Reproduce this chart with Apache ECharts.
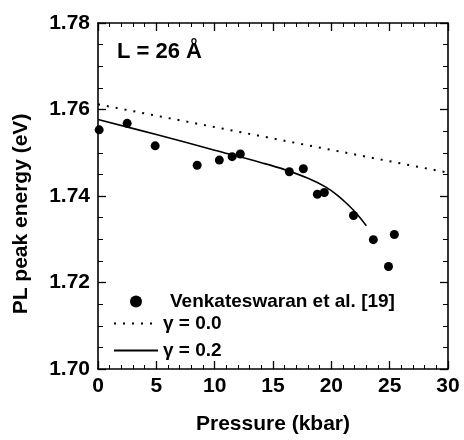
<!DOCTYPE html>
<html>
<head>
<meta charset="utf-8">
<script src="https://cdn.jsdelivr.net/npm/echarts@6/dist/echarts.min.js"></script>
<style>
  html, body { margin: 0; padding: 0; background: #fff; }
  #chart { width: 464px; height: 440px; }
</style>
</head>
<body>
<div id="chart"></div>
<script>
// measured points, pressure (kbar) / PL peak (eV)
var pressure = [0.1, 2.5, 4.9, 8.5, 10.4, 11.5, 12.2, 16.4, 17.6, 18.8, 19.4, 21.9, 23.6, 24.9, 25.4];
var energy = [1.7553, 1.7568, 1.7516, 1.7471, 1.7483, 1.7491, 1.7497, 1.7456, 1.7463, 1.7404, 1.7408, 1.7355, 1.7299, 1.7237, 1.7311];

// gamma = 0.0 (straight dotted line)
var g0Pressure = [0, 30];
var g0Energy = [1.7612, 1.7454];

// gamma = 0.2 (solid curve, ends near 23 kbar)
var g2Pressure = [0, 5, 10, 14, 16, 18, 19.5, 20.5, 21.5, 22.3, 23.0];
var g2Energy = [1.7577, 1.7542, 1.7506, 1.7477, 1.7461, 1.7441, 1.7421, 1.7402, 1.7378, 1.7355, 1.7331];

var xTicks = [0, 5, 10, 15, 20, 25, 30];
var yTicks = [1.70, 1.72, 1.74, 1.76, 1.78];

function pairs(xs, ys) {
	var out = [];
	for (var i = 0; i < xs.length; i++) {
		out.push([xs[i], ys[i]]);
	}
	return out;
}

var font = 'Liberation Sans, Arial, Helvetica, sans-serif';
var black = '#000';

var chart = echarts.init(document.getElementById('chart'), null, { renderer: 'canvas' });

// common axis bits, frame on all four sides with inward ticks
var lineStyle = { color: black, width: 1.6 };
function xAxis(pos, labels) {
	return {
		type: 'value',
		position: pos,
		min: xTicks[0],
		max: xTicks[xTicks.length - 1],
		interval: 5,
		axisLine: { show: true, onZero: false, lineStyle: lineStyle },
		axisTick: { show: true, inside: true, length: 8, lineStyle: { color: black, width: 1.3 } },
		minorTick: { show: true, splitNumber: 5, length: 4, lineStyle: { color: black, width: 1 } },
		splitLine: { show: false },
		axisLabel: {
			show: labels, margin: 7, color: black,
			fontFamily: font, fontWeight: 'bold', fontSize: 21
		},
		name: labels ? 'Pressure (kbar)' : '',
		nameLocation: 'middle',
		nameGap: 45,
		nameTextStyle: { color: black, fontFamily: font, fontWeight: 'bold', fontSize: 21 }
	};
}
function yAxis(pos, labels) {
	return {
		type: 'value',
		position: pos,
		min: yTicks[0],
		max: yTicks[yTicks.length - 1],
		interval: 0.02,
		axisLine: { show: true, onZero: false, lineStyle: lineStyle },
		axisTick: { show: true, inside: true, length: 8, lineStyle: { color: black, width: 1.3 } },
		minorTick: { show: true, splitNumber: 4, length: 5, lineStyle: { color: black, width: 1 } },
		splitLine: { show: false },
		axisLabel: {
			show: labels, margin: 8, color: black,
			fontFamily: font, fontWeight: 'bold', fontSize: 21,
			formatter: function (v) { return v.toFixed(2); }
		},
		name: labels ? 'PL peak energy (eV)' : '',
		nameLocation: 'middle',
		nameGap: 66,
		nameTextStyle: { color: black, fontFamily: font, fontWeight: 'bold', fontSize: 21, padding: [0, 36, 0, 0] }
	};
}

var legendText = { color: black, fontFamily: font, fontWeight: 'bold', fontSize: 19 };

var option = {
	animation: false,
	backgroundColor: '#fff',
	grid: { left: 98, right: 16, top: 23, bottom: 70 },
	xAxis: [xAxis('bottom', true), xAxis('top', false)],
	yAxis: [yAxis('left', true), yAxis('right', false)],
	legend: [
		{
			data: ['Venkateswaran et al. [19]'],
			orient: 'vertical',
			left: 130, top: 292,
			padding: 0,
			itemWidth: 12, itemHeight: 12,
			itemGap: 0,
			textStyle: Object.assign({ padding: [0, 0, 0, 23] }, legendText)
		},
		{
			data: ['γ = 0.0', 'γ = 0.2'],
			orient: 'vertical',
			left: 113, top: 314,
			padding: 0,
			itemWidth: 44, itemHeight: 14,
			itemGap: 8,
			itemStyle: { opacity: 0 },
			textStyle: legendText
		}
	],
	graphic: [{
		type: 'text',
		left: 117, top: 41,
		style: {
			text: 'L = 26 Å',
			fill: black,
			font: 'bold 22px ' + font
		}
	}],
	series: [
		{
			name: 'γ = 0.0',
			type: 'line',
			data: pairs(g0Pressure, g0Energy),
			showSymbol: false,
			symbol: 'none',
			lineStyle: { color: black, width: 2, type: [2, 7] },
			itemStyle: { color: black }
		},
		{
			name: 'γ = 0.2',
			type: 'line',
			data: pairs(g2Pressure, g2Energy),
			smooth: 0.4,
			showSymbol: false,
			symbol: 'none',
			lineStyle: { color: black, width: 1.6 },
			itemStyle: { color: black }
		},
		{
			name: 'Venkateswaran et al. [19]',
			type: 'scatter',
			data: pairs(pressure, energy),
			symbol: 'circle',
			symbolSize: 9,
			itemStyle: { color: black, opacity: 1 }
		}
	]
};

chart.setOption(option);
</script>
</body>
</html>
